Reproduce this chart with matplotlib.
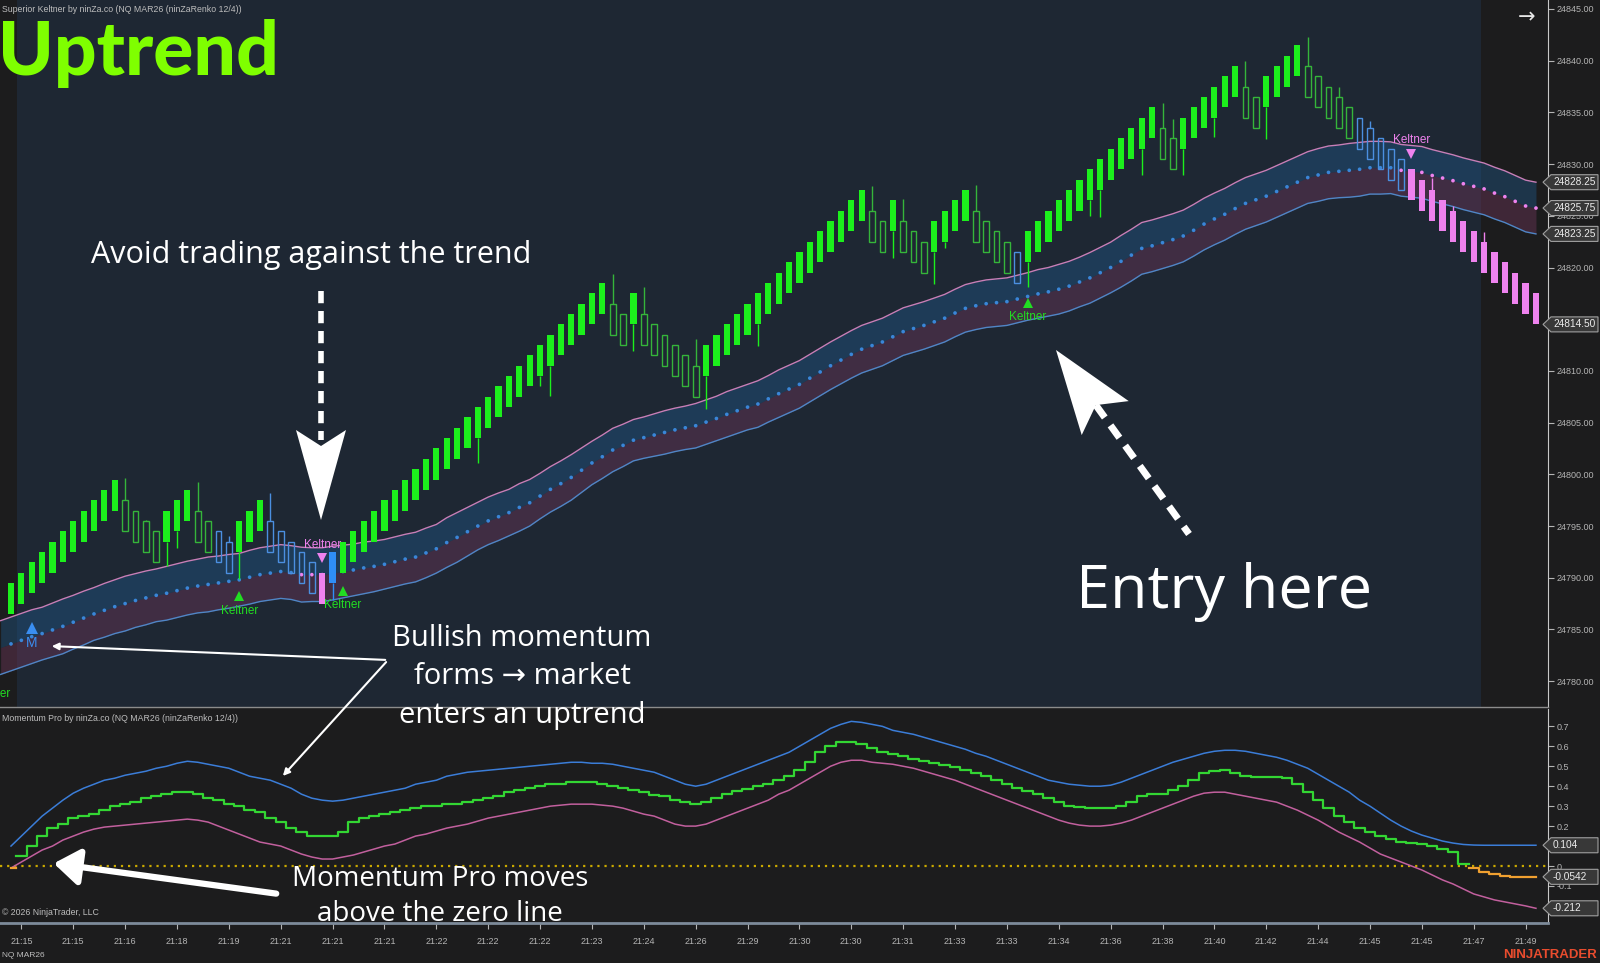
import numpy as np
import matplotlib
matplotlib.use("Agg")
import matplotlib.pyplot as plt
from matplotlib.patches import Polygon, FancyArrowPatch

W, H = 1600, 963

# ── price bars (ninZaRenko 12/4 : body = 3 pts, step = 1 pt) ────────────────
price_base = 24700
close_pts = [
    89.5, 90.5, 91.5, 92.5, 93.5, 94.5, 95.5, 96.5, 97.5, 98.5, 99.5,
    94.5, 93.5, 92.5, 91.5, 96.5, 97.5, 98.5, 93.5, 92.5, 91.5, 90.5,
    95.5, 96.5, 97.5, 92.5, 91.5, 90.5, 89.5, 88.5, 87.5, 92.5,
    93.5, 94.5, 95.5, 96.5, 97.5, 98.5, 99.5, 100.5, 101.5, 102.5, 103.5, 104.5, 105.5,
    106.5, 107.5, 108.5, 109.5, 110.5, 111.5, 112.5, 113.5, 114.5, 115.5, 116.5, 117.5, 118.5,
    113.5, 112.5, 117.5, 112.5, 111.5, 110.5, 109.5, 108.5, 107.5,
    112.5, 113.5, 114.5, 115.5, 116.5, 117.5, 118.5, 119.5, 120.5, 121.5, 122.5, 123.5,
    124.5, 125.5, 126.5, 127.5,
    122.5, 121.5, 126.5, 121.5, 120.5, 119.5, 124.5, 125.5, 126.5, 127.5,
    122.5, 121.5, 120.5, 119.5, 118.5,
    123.5, 124.5, 125.5, 126.5, 127.5, 128.5, 129.5, 130.5, 131.5, 132.5, 133.5, 134.5, 135.5,
    130.5, 129.5, 134.5, 135.5, 136.5, 137.5, 138.5, 139.5, 134.5, 133.5,
    138.5, 139.5, 140.5, 141.5,
    136.5, 135.5, 134.5, 133.5, 132.5, 131.5, 130.5, 129.5, 128.5, 127.5,
    126.5, 125.5, 124.5, 123.5, 122.5, 121.5, 120.5, 119.5, 118.5, 117.5, 116.5, 115.5, 114.5,
]
# G up/green filled, g down/green hollow, b down/blue hollow, B up/blue filled, P down/pink filled
bar_kind = ("GGGGGGGGGGG" "gggg" "GGG" "gg" "bb" "GGG" "bbbbb" "P" "B"
            "GGGGGGGGGGGGGGGGGGGGGGGGGG" "gg" "G" "gggggg" "GGGGGGGGGGGGGGGG"
            "gg" "G" "ggg" "GGGG" "gggg" "b" "GGGGGGGGGGGGG" "gg" "GGGGGG" "gg"
            "GGGG" "ggggg" "bbbbb" "PPPPPPPPPPPPP")
wick_bars = [11, 13, 15, 16, 18, 21, 22, 25, 31, 45, 51, 52, 58, 60, 61, 66, 67, 72,
             83, 85, 86, 89, 90, 93, 98, 104, 105, 109, 111, 112, 113, 116, 119, 121,
             125, 128, 131, 137, 139, 142]
wick_ends = [99.6, 95.6, 91.1, 92.9, 99.3, 94.0, 89.9, 98.2, 87.8, 101.1, 108.5, 107.6,
             119.4, 111.9, 118.1, 113.1, 106.3, 112.4, 127.9, 120.9, 126.6, 118.4, 121.9,
             128.0, 118.1, 125.0, 124.9, 128.95, 135.9, 134.4, 128.95, 132.6, 140.0,
             132.4, 142.3, 137.5, 134.2, 128.7, 125.95, 123.4]

# ── Superior Keltner (first value is one bar left of bar 0) ──────────────────
kelt_mid = [
    83.25,
    83.6, 83.95, 84.3, 84.6, 84.95, 85.3, 85.7, 86.1, 86.5, 86.85,
    87.2, 87.5, 87.8, 88.05, 88.3, 88.5, 88.75, 89.0, 89.2, 89.35,
    89.5, 89.65, 89.8, 90.05, 90.3, 90.45, 90.6, 90.5, 90.3, 90.3,
    90.3, 90.45, 90.6, 90.75, 90.95, 91.1, 91.3, 91.55, 91.8, 92.0,
    92.4, 92.8, 93.4, 93.9, 94.45, 95.0, 95.5, 95.9, 96.3, 96.8,
    97.25, 97.9, 98.55, 99.1, 99.7, 100.4, 101.1, 101.7, 102.35, 102.8,
    103.3, 103.55, 103.8, 104.05, 104.3, 104.5, 104.7, 105.05, 105.4, 105.8,
    106.15, 106.5, 106.8, 107.3, 107.8, 108.25, 108.7, 109.3, 109.9, 110.5,
    111.05, 111.6, 112.1, 112.45, 112.8, 113.3, 113.8, 114.1, 114.4, 114.75,
    115.1, 115.6, 116.05, 116.3, 116.5, 116.6, 116.7, 116.95, 117.2, 117.45,
    117.65, 117.9, 118.2, 118.6, 119.0, 119.5, 120.0, 120.6, 121.2, 121.85,
    122.1, 122.4, 122.7, 123.05, 123.6, 124.2, 124.7, 125.15, 125.7, 126.2,
    126.55, 126.9, 127.35, 127.8, 128.25, 128.7, 128.95, 129.2, 129.3, 129.4,
    129.5, 129.65, 129.65, 129.65, 129.4, 129.3, 129.2, 128.9, 128.65, 128.4,
    128.1, 127.85, 127.6, 127.2, 126.85, 126.4, 125.95, 125.75,
]
kelt_half = [
    2.6,
    2.6, 2.6, 2.6, 2.55, 2.6, 2.65, 2.6, 2.6, 2.55, 2.6,
    2.6, 2.65, 2.6, 2.6, 2.55, 2.6, 2.6, 2.6, 2.6, 2.65,
    2.6, 2.6, 2.55, 2.6, 2.6, 2.6, 2.6, 2.6, 2.65, 2.6,
    2.6, 2.6, 2.55, 2.5, 2.5, 2.45, 2.4, 2.4, 2.4, 2.4,
    2.4, 2.35, 2.4, 2.4, 2.35, 2.3, 2.3, 2.3, 2.25, 2.3,
    2.25, 2.2, 2.2, 2.2, 2.2, 2.15, 2.1, 2.1, 2.1, 2.05,
    2.0, 2.0, 2.05, 2.1, 2.1, 2.1, 2.15, 2.15, 2.15, 2.2,
    2.2, 2.2, 2.25, 2.25, 2.3, 2.3, 2.3, 2.3, 2.3, 2.3,
    2.3, 2.3, 2.3, 2.3, 2.3, 2.3, 2.3, 2.3, 2.3, 2.3,
    2.3, 2.3, 2.3, 2.3, 2.3, 2.3, 2.3, 2.3, 2.3, 2.35,
    2.35, 2.4, 2.4, 2.4, 2.45, 2.45, 2.45, 2.5, 2.5, 2.5,
    2.5, 2.5, 2.5, 2.5, 2.5, 2.5, 2.5, 2.5, 2.5, 2.5,
    2.5, 2.5, 2.5, 2.5, 2.5, 2.5, 2.55, 2.55, 2.55, 2.6,
    2.6, 2.55, 2.55, 2.5, 2.5, 2.5, 2.5, 2.5, 2.5, 2.5,
    2.5, 2.5, 2.5, 2.5, 2.5, 2.5, 2.5, 2.5,
]
kelt_down_bars = [28, 29, 30, 134, 135, 136, 137, 138, 139, 140, 141, 142, 143, 144, 145, 146, 147]

# signals
sig_up_bars = [22, 32, 98]
sig_up_tri = [88.2, 88.75, 116.6]
sig_up_txt = [86.8, 87.4, 115.2]
sig_dn_bars = [30, 135]
sig_dn_tri = [91.9, 131.0]
sig_dn_txt = [93.2, 132.3]
m_bar, m_tri, m_txt = 2, 85.1, 83.7
clipped_txt_bar, clipped_txt_y = -1.85, 78.8

# ── Momentum Pro ─────────────────────────────────────────────────────────────
mom_mid = [
    -0.01, 0.05, 0.10, 0.15, 0.19, 0.21, 0.24, 0.25, 0.26, 0.28,
    0.30, 0.31, 0.32, 0.34, 0.35, 0.36, 0.37, 0.37, 0.36, 0.34,
    0.33, 0.31, 0.30, 0.28, 0.27, 0.24, 0.22, 0.19, 0.17, 0.15,
    0.15, 0.15, 0.17, 0.22, 0.24, 0.25, 0.26, 0.27, 0.28, 0.29,
    0.30, 0.30, 0.31, 0.31, 0.32, 0.33, 0.34, 0.35, 0.37, 0.38,
    0.39, 0.40, 0.41, 0.41, 0.42, 0.42, 0.42, 0.41, 0.40, 0.39,
    0.38, 0.37, 0.355, 0.35, 0.33, 0.32, 0.31, 0.32, 0.34, 0.36,
    0.375, 0.385, 0.40, 0.41, 0.43, 0.45, 0.48, 0.52, 0.57, 0.60,
    0.62, 0.62, 0.61, 0.59, 0.57, 0.56, 0.55, 0.535, 0.525, 0.515,
    0.505, 0.495, 0.48, 0.465, 0.45, 0.43, 0.41, 0.39, 0.375, 0.36,
    0.34, 0.32, 0.30, 0.295, 0.29, 0.29, 0.29, 0.30, 0.32, 0.35,
    0.36, 0.36, 0.38, 0.40, 0.43, 0.465, 0.475, 0.48, 0.465, 0.45,
    0.445, 0.445, 0.445, 0.44, 0.41, 0.37, 0.33, 0.29, 0.25, 0.22,
    0.19, 0.17, 0.15, 0.135, 0.12, 0.115, 0.11, 0.10, 0.085, 0.07,
    0.01, -0.01, -0.03, -0.04, -0.05, -0.054, -0.054, -0.0542,
]
mom_upper = [
    0.10, 0.15, 0.20, 0.25, 0.29, 0.33, 0.365, 0.39, 0.41, 0.43,
    0.44, 0.455, 0.465, 0.475, 0.49, 0.50, 0.515, 0.525, 0.52, 0.51,
    0.50, 0.49, 0.47, 0.45, 0.44, 0.43, 0.41, 0.39, 0.36, 0.34,
    0.33, 0.325, 0.33, 0.34, 0.35, 0.36, 0.37, 0.38, 0.39, 0.41,
    0.42, 0.43, 0.45, 0.46, 0.47, 0.475, 0.48, 0.485, 0.49, 0.495,
    0.50, 0.505, 0.51, 0.515, 0.52, 0.52, 0.515, 0.515, 0.51, 0.50,
    0.49, 0.48, 0.47, 0.45, 0.43, 0.41, 0.40, 0.41, 0.43, 0.45,
    0.47, 0.49, 0.51, 0.53, 0.55, 0.57, 0.60, 0.63, 0.66, 0.69,
    0.71, 0.725, 0.72, 0.71, 0.70, 0.68, 0.67, 0.66, 0.645, 0.63,
    0.615, 0.60, 0.585, 0.565, 0.55, 0.53, 0.51, 0.49, 0.47, 0.45,
    0.43, 0.42, 0.41, 0.405, 0.40, 0.40, 0.405, 0.42, 0.44, 0.46,
    0.48, 0.50, 0.52, 0.535, 0.55, 0.565, 0.575, 0.58, 0.58, 0.575,
    0.565, 0.555, 0.545, 0.53, 0.51, 0.49, 0.46, 0.43, 0.40, 0.37,
    0.33, 0.30, 0.265, 0.23, 0.20, 0.175, 0.155, 0.14, 0.125, 0.115,
    0.108, 0.105, 0.104, 0.104, 0.104, 0.104, 0.104, 0.104,
]
mom_lower = [
    -0.01, 0.02, 0.05, 0.08, 0.10, 0.13, 0.15, 0.17, 0.185, 0.195,
    0.20, 0.205, 0.21, 0.215, 0.22, 0.225, 0.23, 0.235, 0.23, 0.22,
    0.20, 0.18, 0.16, 0.14, 0.12, 0.11, 0.10, 0.08, 0.06, 0.045,
    0.035, 0.035, 0.045, 0.055, 0.07, 0.085, 0.10, 0.11, 0.13, 0.15,
    0.16, 0.175, 0.19, 0.20, 0.21, 0.225, 0.24, 0.25, 0.26, 0.27,
    0.28, 0.29, 0.30, 0.305, 0.31, 0.31, 0.31, 0.305, 0.30, 0.29,
    0.275, 0.26, 0.25, 0.23, 0.21, 0.20, 0.20, 0.21, 0.23, 0.25,
    0.27, 0.29, 0.31, 0.33, 0.36, 0.38, 0.41, 0.44, 0.47, 0.50,
    0.52, 0.53, 0.53, 0.52, 0.515, 0.51, 0.50, 0.49, 0.475, 0.46,
    0.445, 0.43, 0.41, 0.39, 0.37, 0.35, 0.33, 0.31, 0.29, 0.27,
    0.25, 0.23, 0.215, 0.205, 0.20, 0.20, 0.205, 0.215, 0.23, 0.25,
    0.27, 0.29, 0.31, 0.33, 0.35, 0.365, 0.37, 0.37, 0.36, 0.35,
    0.34, 0.33, 0.32, 0.30, 0.28, 0.255, 0.23, 0.20, 0.17, 0.145,
    0.12, 0.09, 0.06, 0.04, 0.02, 0.00, -0.02, -0.045, -0.07, -0.09,
    -0.115, -0.14, -0.155, -0.17, -0.18, -0.19, -0.20, -0.212,
]

time_labels = ["21:15", "21:15", "21:16", "21:18", "21:19", "21:21", "21:21", "21:21",
               "21:22", "21:22", "21:22", "21:23", "21:24", "21:26", "21:29", "21:30",
               "21:30", "21:31", "21:33", "21:33", "21:34", "21:36", "21:38", "21:40",
               "21:42", "21:44", "21:45", "21:45", "21:47", "21:49"]
price_ticks = [24780, 24785, 24790, 24795, 24800, 24805, 24810, 24815, 24820, 24825,
               24830, 24835, 24840, 24845]
mom_ticks = [-0.1, 0, 0.2, 0.3, 0.4, 0.5, 0.6, 0.7]   # 0.1 sits under the 0.104 tag

# ── colours ──────────────────────────────────────────────────────────────────
BG_NAVY = "#1e2733"
BG_DARK = "#1c1c1d"
GREEN = "#1cf01c"
GREEN_EDGE = "#35b53a"
BLUE_EDGE = "#4b8fe0"
BLUE_FILL = "#2f8ef5"
PINK = "#ee82ee"
AXIS_TXT = "#b4b4b4"
TXT_FONT = ["Liberation Sans", "DejaVu Sans"]
ANN_FONT = ["Open Sans", "DejaVu Sans"]

fig = plt.figure(figsize=(W / 100, H / 100), dpi=100, facecolor=BG_DARK)


def fpos(x, y):
    return x / W, 1 - y / H


# axes placed in pixels of the 1600x963 canvas
ax = fig.add_axes([0, 1 - 707 / H, 1548 / W, 707 / H])
ax2 = fig.add_axes([0, 1 - 923 / H, 1548 / W, 214 / H])

n = len(close_pts)
xb = np.arange(n)
closes = np.array(close_pts) + price_base

# ── top panel ────────────────────────────────────────────────────────────────
ax.set_facecolor(BG_DARK)
ax.set_xlim(-1.06, 148.16)
ax.set_ylim(24777.5, 24845.87)
ax.axvspan(0.58, 141.7, color=BG_NAVY, zorder=0, lw=0)

xk = np.arange(-1, n)
mid = np.array(kelt_mid) + price_base
half = np.array(kelt_half)
upper, lower = mid + half, mid - half
ax.fill_between(xk, mid, upper, color="#205889", alpha=0.42, lw=0, zorder=1)
ax.fill_between(xk, lower, mid, color="#6a3558", alpha=0.45, lw=0, zorder=1)
ax.plot(xk, upper, color="#c77fb8", lw=1.0, zorder=2)
ax.plot(xk, lower, color="#4f86c6", lw=1.0, zorder=2)
dot_cols = [PINK if i in kelt_down_bars else "#3a86d8" for i in xb]
ax.scatter(xb, mid[1:], s=7, c=dot_cols, zorder=3, lw=0)

# wicks
for b, e in zip(wick_bars, wick_ends):
    c = close_pts[b]
    lo, hi = (c - 3, c) if bar_kind[b] in "GB" else (c, c + 3)
    col = {"G": GREEN, "g": GREEN_EDGE, "b": BLUE_EDGE, "B": BLUE_FILL, "P": PINK}[bar_kind[b]]
    y0, y1 = (hi, e) if e > hi else (e, lo)
    ax.vlines(b, y0 + price_base, y1 + price_base, color=col, lw=1.0, zorder=4)

# bodies
for i, (c, k) in enumerate(zip(closes, bar_kind)):
    bottom = c - 3 if k in "GB" else c
    if k == "G":
        ax.bar(i, 3, bottom=bottom, width=0.6, color=GREEN, lw=0, zorder=5)
    elif k == "B":
        ax.bar(i, 3, bottom=bottom, width=0.6, color=BLUE_FILL, lw=0, zorder=5)
    elif k == "P":
        ax.bar(i, 3, bottom=bottom, width=0.6, color=PINK, lw=0, zorder=5)
    else:
        ec = GREEN_EDGE if k == "g" else BLUE_EDGE
        ax.bar(i, 3, bottom=bottom, width=0.55, facecolor="none", edgecolor=ec, lw=1.0, zorder=5)

# signals
ax.plot(sig_up_bars, np.array(sig_up_tri) + price_base, "^", color="#22dd22", ms=7, mew=0, zorder=6)
for b, ty in zip(sig_up_bars, sig_up_txt):
    ax.text(b, ty + price_base, "Keltner", color="#22dd22", fontsize=8.5, ha="center",
            va="center", family=TXT_FONT, zorder=6)
ax.plot(sig_dn_bars, np.array(sig_dn_tri) + price_base, "v", color=PINK, ms=7, mew=0, zorder=6)
for b, ty in zip(sig_dn_bars, sig_dn_txt):
    ax.text(b, ty + price_base, "Keltner", color=PINK, fontsize=8.5, ha="center",
            va="center", family=TXT_FONT, zorder=6)
ax.plot([m_bar], [m_tri + price_base], "^", color="#3a8ef0", ms=9, mew=0, zorder=6)
ax.text(m_bar, m_txt + price_base, "M", color="#3a8ef0", fontsize=10, ha="center",
        va="center", family=TXT_FONT, zorder=6)
ax.text(clipped_txt_bar, clipped_txt_y + price_base, "Keltner", color="#22dd22", fontsize=8.5,
        ha="center", va="center", family=TXT_FONT, clip_on=True, zorder=6)

ax.set_xticks([])
ax.yaxis.tick_right()
ax.set_yticks(price_ticks)
ax.set_yticklabels([f"{t:.2f}" for t in price_ticks])
ax.tick_params(axis="y", colors=AXIS_TXT, labelsize=6.5, length=4, width=0.8, pad=2)
for lab in ax.get_yticklabels():
    lab.set_family(TXT_FONT)
for s in ["top", "left"]:
    ax.spines[s].set_visible(False)
ax.spines["right"].set_color("#c8c8c8")
ax.spines["bottom"].set_color("#8c8c8c")
ax.spines["bottom"].set_linewidth(1.0)

# ── bottom panel ─────────────────────────────────────────────────────────────
ax2.set_facecolor(BG_DARK)
ax2.set_xlim(-1.06, 148.16)
ax2.set_ylim(-0.2857, 0.787)
ax2.axhline(0, color="#c9a800", lw=1.6, ls=(0, (1, 2.2)), zorder=1)
ax2.plot(xb, mom_upper, color="#3b7dd8", lw=1.1, zorder=2)
ax2.plot(xb, mom_lower, color="#c2609e", lw=1.1, zorder=2)
mm = np.array(mom_mid)
ax2.step(xb, np.ma.masked_where(mm < 0, mm), where="mid", color="#33d633", lw=1.6, zorder=3)
ax2.step(xb, np.ma.masked_where(mm >= 0, mm), where="mid", color="#f0a030", lw=1.6, zorder=3)

ax2.yaxis.tick_right()
ax2.set_yticks(mom_ticks)
ax2.set_yticklabels([f"{t:g}" for t in mom_ticks])
ax2.tick_params(axis="y", colors=AXIS_TXT, labelsize=6.5, length=4, width=0.8, pad=2)
tick_pos = xb[1::5]
ax2.set_xticks(tick_pos)
ax2.set_xticklabels(time_labels)
ax2.tick_params(axis="x", colors=AXIS_TXT, labelsize=6.5, length=4, width=0.8, pad=6)
for lab in ax2.get_yticklabels() + ax2.get_xticklabels():
    lab.set_family(TXT_FONT)
for s in ["top", "left"]:
    ax2.spines[s].set_visible(False)
ax2.spines["right"].set_color("#c8c8c8")
ax2.spines["bottom"].set_color("#7d8b9a")
ax2.spines["bottom"].set_linewidth(2.0)


# ── value tags on the right axis ─────────────────────────────────────────────
def tag(axis, value, text):
    yd = axis.transData.transform((0, value))[1] / H
    x0, x1, tip, hh = 1543 / W, 1598 / W, 8 / W, 7.5 / H
    poly = Polygon([(x0, yd), (x0 + tip, yd + hh), (x1, yd + hh), (x1, yd - hh), (x0 + tip, yd - hh)],
                   closed=True, transform=fig.transFigure, fc="#383838", ec="#a0a0a0", lw=0.8, zorder=20)
    fig.add_artist(poly)
    fig.text(x0 + tip + 2 / W, yd, text, color="#ececec", fontsize=7.3, va="center", ha="left",
             family=TXT_FONT, zorder=21)


tag(ax, upper[-1], f"{upper[-1]:.2f}")
tag(ax, mid[-1], f"{mid[-1]:.2f}")
tag(ax, lower[-1], f"{lower[-1]:.2f}")
tag(ax, closes[-1], f"{closes[-1]:.2f}")
tag(ax2, mom_upper[-1], f"{mom_upper[-1]:.3g}")
tag(ax2, mom_mid[-1], f"{mom_mid[-1]:.3g}")
tag(ax2, mom_lower[-1], f"{mom_lower[-1]:.3g}")

# ── chart chrome texts ───────────────────────────────────────────────────────
fig.text(*fpos(2, 9), "Superior Keltner by ninZa.co (NQ MAR26 (ninZaRenko 12/4))", color="#bdbdbd",
         fontsize=6.3, va="center", family=TXT_FONT)
fig.text(*fpos(2, 718), "Momentum Pro by ninZa.co (NQ MAR26 (ninZaRenko 12/4))", color="#bdbdbd",
         fontsize=6.3, va="center", family=TXT_FONT)
fig.text(*fpos(2, 912), "© 2026 NinjaTrader, LLC", color="#bdbdbd", fontsize=6.3, va="center",
         family=TXT_FONT)
fig.text(*fpos(2, 955), "NQ MAR26", color="#bdbdbd", fontsize=6, va="center", family=TXT_FONT)
fig.text(*fpos(1597, 955), "NINJATRADER", color="#e84c2e", fontsize=9.5, va="center", ha="right",
         fontweight="bold", family=TXT_FONT)
fig.text(*fpos(1527, 17), "→", color="#e6e6e6", fontsize=15, va="center", ha="center",
         family=["DejaVu Sans"])

# ── annotations ──────────────────────────────────────────────────────────────
fig.text(*fpos(-2, 53), "Uptrend", color="#7fff00", fontsize=54, fontweight="black",
         va="center", ha="left", family=["Lato", "DejaVu Sans"])
fig.text(*fpos(311, 255), "Avoid trading against the trend", color="white", fontsize=22,
         va="center", ha="center", family=ANN_FONT, fontweight="medium")
fig.text(*fpos(1224, 592), "Entry here", color="white", fontsize=44, va="center", ha="center",
         family=ANN_FONT, fontweight="medium")
for txt, yy in zip(["Bullish momentum", "forms → market", "enters an uptrend"], [638, 676, 715]):
    fig.text(*fpos(522, yy), txt, color="white", fontsize=21, va="center", ha="center",
             family=ANN_FONT, fontweight="medium")
for txt, yy in zip(["Momentum Pro moves", "above the zero line"], [879, 914]):
    fig.text(*fpos(440, yy), txt, color="white", fontsize=20, va="center", ha="center",
             family=ANN_FONT, fontweight="medium")

# dashed arrow pointing down
fig.add_artist(plt.Line2D([321 / W, 321 / W], [1 - 291 / H, 1 - 440 / H], color="white", lw=4,
                          dashes=(2.2, 1.4), transform=fig.transFigure))
fig.add_artist(Polygon([fpos(321, 520), fpos(296, 430), fpos(321, 446), fpos(346, 430)],
                       closed=True, fc="white", ec="none", transform=fig.transFigure))

# dashed arrow pointing up-left at the entry
tip = np.array([1056.0, 350.0])
tail = np.array([1189.0, 534.0])
d = (tail - tip) / np.linalg.norm(tail - tip)
perp = np.array([d[1], -d[0]])
base = tip + 84 * d
notch = tip + 68 * d
fig.add_artist(plt.Line2D([fpos(*notch)[0], fpos(*tail)[0]], [fpos(*notch)[1], fpos(*tail)[1]],
                          color="white", lw=5, dashes=(2.2, 1.4), transform=fig.transFigure))
fig.add_artist(Polygon([fpos(*tip), fpos(*(base + 29 * perp)), fpos(*notch), fpos(*(base - 29 * perp))],
                       closed=True, fc="white", ec="none", transform=fig.transFigure))

# thin arrows from "Bullish momentum"
for end in [(49, 646), (281, 778)]:
    fig.add_artist(FancyArrowPatch(fpos(388, 660), fpos(*end), transform=fig.transFigure,
                                   arrowstyle="-|>", mutation_scale=10, color="white", lw=1.5))
# thick arrow to the zero-line cross
fig.add_artist(FancyArrowPatch(fpos(279, 894), fpos(51, 863), transform=fig.transFigure,
                               arrowstyle="-|>,head_length=0.7,head_width=0.5", mutation_scale=22,
                               color="white", lw=4.5))

fig.savefig("out.png", dpi=100, facecolor=fig.get_facecolor())
